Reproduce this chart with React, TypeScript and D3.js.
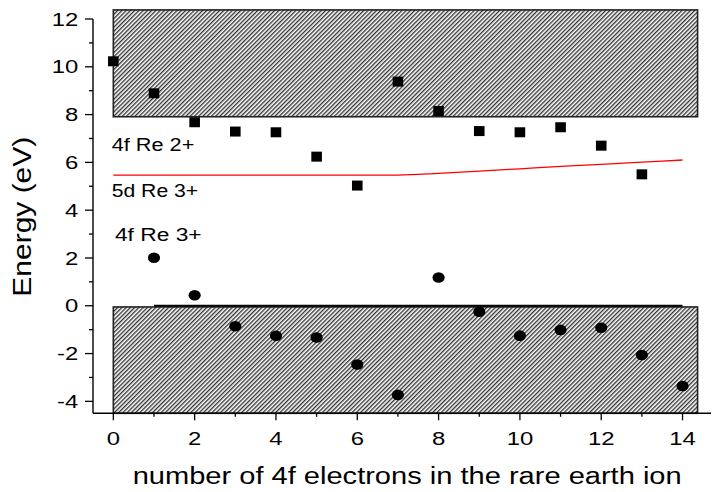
import React from "react";
import * as d3 from "d3";

// ---- data ----
const squareX = [0, 1, 2, 3, 4, 5, 6, 7, 8, 9, 10, 11, 12, 13];
const squareY = [10.23, 8.89, 7.68, 7.29, 7.26, 6.24, 5.03, 9.38, 8.15, 7.31, 7.26, 7.47, 6.7, 5.5];
const circleX = [1, 2, 3, 4, 5, 6, 7, 8, 9, 10, 11, 12, 13, 14];
const circleY = [2.01, 0.44, -0.86, -1.26, -1.33, -2.46, -3.73, 1.18, -0.25, -1.25, -1.01, -0.92, -2.06, -3.36];
const redX = [0, 1, 2, 3, 4, 5, 6, 7, 8, 9, 10, 11, 12, 13, 14];
const redY = [5.47, 5.47, 5.47, 5.47, 5.47, 5.47, 5.47, 5.47, 5.54, 5.63, 5.73, 5.83, 5.92, 6.01, 6.1];
// hatched bands: [x0, x1, y0, y1]
const bandNames = ["conduction", "valence"];
const bandX0 = [0, 0];
const bandX1 = [14.37, 14.37];
const bandY0 = [7.91, -4.5];
const bandY1 = [12.38, -0.05];
// reference level line at 0
const zeroLineX = [1, 14];
const zeroLineY = [0, 0];
const xTicksMajor = [0, 2, 4, 6, 8, 10, 12, 14];
const xTicksMinor = [1, 3, 5, 7, 9, 11, 13];
const yTicksMajor = [-4, -2, 0, 2, 4, 6, 8, 10, 12];
const yTicksMinor = [-3, -1, 1, 3, 5, 7, 9, 11];
const labelText = ["4f Re 2+", "5d Re 3+", "4f Re 3+"];
const labelX = [-0.04, -0.04, 0.04];
const labelY = [6.49, 4.57, 2.72];
const xTitle = "number of 4f electrons in the rare earth ion";
const yTitle = "Energy (eV)";

const FONT = "'Liberation Sans', Arial, Helvetica, sans-serif";

export default function App() {
  const W = 715, H = 492;
  const x = d3.scaleLinear().domain([-0.5, 14.7]).range([93, 711]);
  const y = d3.scaleLinear().domain([-4.5, 12]).range([413.3, 19]);
  const axisY = y(-4.5);
  const axisX = x(-0.5);

  const redLine = d3
    .line<number>()
    .x((d, i) => x(redX[i]))
    .y((d) => y(d))
    .curve(d3.curveMonotoneX)(redY) as string;

  const labelW = [82.7, 86.5, 86.7];
  const sx = 1.29;

  return (
    <svg
      width={W}
      height={H}
      style={{ position: "absolute", left: 0, top: 0, background: "#fff" }}
      fontFamily={FONT}
    >
      <defs>
        <pattern id="hatch" patternUnits="userSpaceOnUse" width="3" height="3" patternTransform="rotate(45)">
          <rect width="3" height="3" fill="#fff" />
          <line x1="0.75" y1="0" x2="0.75" y2="3" stroke="#000" strokeWidth="1.1" />
        </pattern>
      </defs>

      {/* bands */}
      {bandNames.map((n, i) => (
        <rect
          key={n}
          x={x(bandX0[i])}
          y={y(bandY1[i])}
          width={x(bandX1[i]) - x(bandX0[i])}
          height={y(bandY0[i]) - y(bandY1[i])}
          fill="url(#hatch)"
          stroke="#222"
          strokeWidth={1.6}
        />
      ))}

      {/* zero line */}
      <line
        x1={x(zeroLineX[0])}
        x2={x(zeroLineX[1])}
        y1={y(zeroLineY[0])}
        y2={y(zeroLineY[1])}
        stroke="#000"
        strokeWidth={1.8}
      />

      {/* red 5d line */}
      <path d={redLine} fill="none" stroke="#ff0000" strokeWidth={1.3} />

      {/* squares */}
      {squareX.map((v, i) => (
        <rect key={"s" + i} x={x(v) - 5.3} y={y(squareY[i]) - 5} width={10.6} height={10} fill="#000" />
      ))}
      {/* circles */}
      {circleX.map((v, i) => (
        <ellipse key={"c" + i} cx={x(v)} cy={y(circleY[i])} rx={6.1} ry={5.3} fill="#000" />
      ))}

      {/* axes */}
      <line x1={axisX} x2={axisX} y1={y(12)} y2={axisY} stroke="#000" strokeWidth={1.4} />
      <line x1={axisX} x2={711} y1={axisY} y2={axisY} stroke="#000" strokeWidth={1.4} />
      {yTicksMajor.map((t) => (
        <g key={"ym" + t}>
          <line x1={axisX - 8} x2={axisX} y1={y(t)} y2={y(t)} stroke="#000" strokeWidth={1.3} />
          <text
            transform={`translate(${axisX - 14.7},${y(t)}) scale(${sx},1)`}
            textAnchor="end"
            dy="0.36em"
            fontSize={18.5}
            fill="#000"
          >
            {t < 0 ? "-" + Math.abs(t) : String(t)}
          </text>
        </g>
      ))}
      {yTicksMinor.map((t) => (
        <line key={"yn" + t} x1={axisX - 4} x2={axisX} y1={y(t)} y2={y(t)} stroke="#000" strokeWidth={1.3} />
      ))}
      {xTicksMajor.map((t) => (
        <g key={"xm" + t}>
          <line x1={x(t)} x2={x(t)} y1={axisY} y2={axisY + 7} stroke="#000" strokeWidth={1.3} />
          <text
            transform={`translate(${x(t)},${axisY + 31.7}) scale(${sx},1)`}
            textAnchor="middle"
            fontSize={18.5}
            fill="#000"
          >
            {String(t)}
          </text>
        </g>
      ))}
      {xTicksMinor.map((t) => (
        <line key={"xn" + t} x1={x(t)} x2={x(t)} y1={axisY} y2={axisY + 3.5} stroke="#000" strokeWidth={1.3} />
      ))}

      {/* annotations */}
      {labelText.map((t, i) => (
        <text
          key={"l" + i}
          x={x(labelX[i])}
          y={y(labelY[i])}
          fontSize={18}
          fill="#000"
          textLength={labelW[i]}
          lengthAdjust="spacingAndGlyphs"
        >
          {t}
        </text>
      ))}

      {/* titles */}
      <text x={132.7} y={484} fontSize={23.5} fill="#000" textLength={549} lengthAdjust="spacingAndGlyphs">
        {xTitle}
      </text>
      <text
        transform={`translate(30.7,296.7) rotate(-90)`}
        fontSize={26}
        fill="#000"
        textLength={160}
        lengthAdjust="spacingAndGlyphs"
      >
        {yTitle}
      </text>
    </svg>
  );
}
